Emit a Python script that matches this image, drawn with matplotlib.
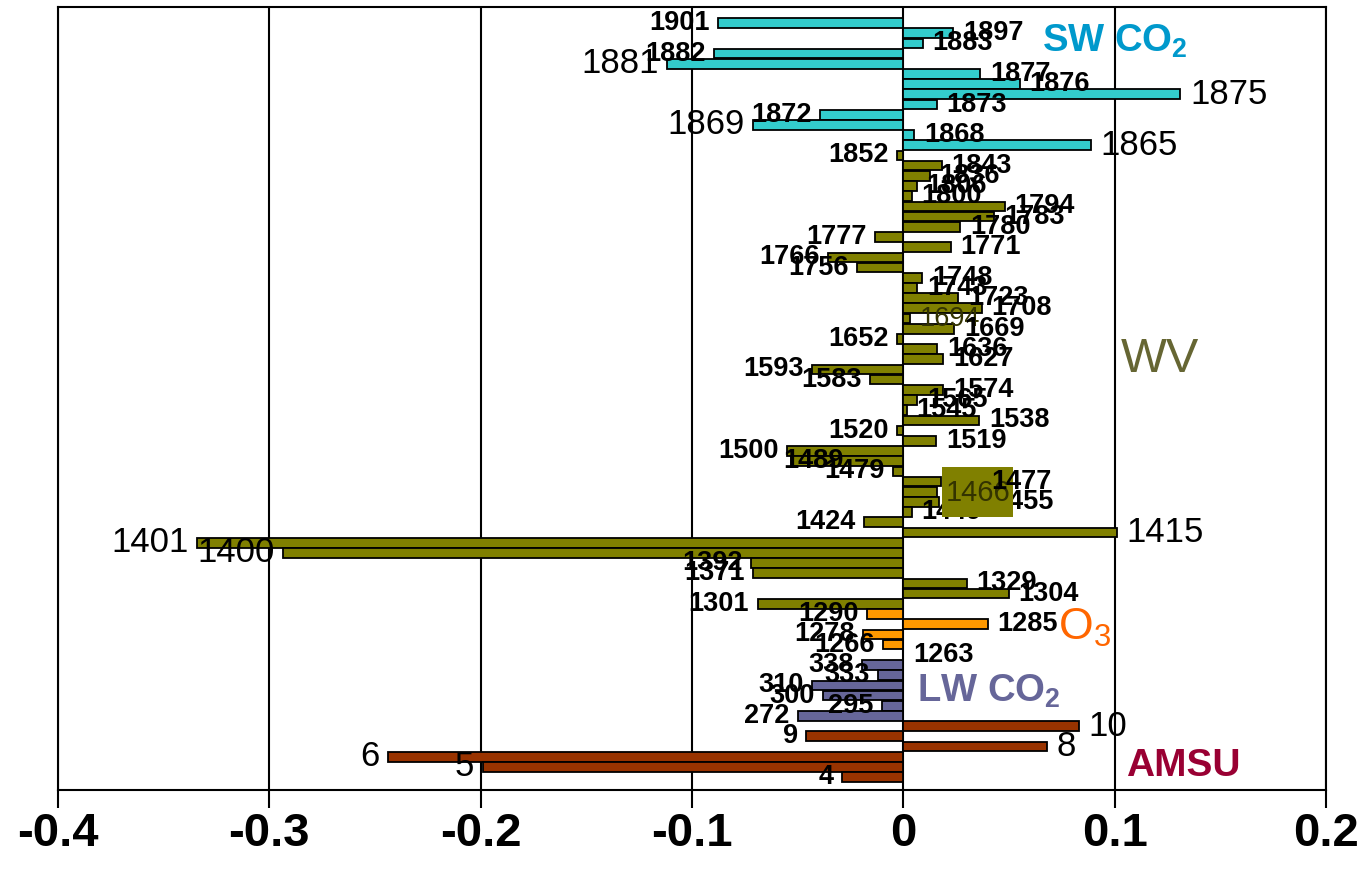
import numpy as np
import matplotlib
matplotlib.use('Agg')
import matplotlib.pyplot as plt
from matplotlib.patches import Rectangle

plt.rcParams['font.family'] = ['Liberation Sans', 'DejaVu Sans']
plt.rcParams['mathtext.fontset'] = 'custom'
plt.rcParams['mathtext.rm'] = 'Liberation Sans'
plt.rcParams['mathtext.bf'] = 'Liberation Sans:bold'

# channels of each group, listed from top to bottom, with their values
sw_co2_ch = ['1901', '1897', '1883', '1882', '1881', '1877', '1876', '1875',
             '1873', '1872', '1869', '1868', '1865']
sw_co2_val = [-0.0877, 0.0236, 0.0093, -0.0896, -0.1118, 0.0363, 0.0552, 0.131,
              0.0159, -0.0394, -0.0711, 0.0051, 0.0887]

wv_ch = ['1852', '1843', '1836', '1806', '1800', '1794', '1783', '1780', '1777',
         '1771', '1766', '1756', '1748', '1743', '1723', '1708', '1694', '1669',
         '1652', '1636', '1627', '1593', '1583', '1574', '1565', '1545', '1538',
         '1520', '1519', '1500', '1489', '1479', '1477', '1466', '1455', '1449',
         '1424', '1415', '1401', '1400', '1392', '1371', '1329', '1304', '1301']
wv_val = [-0.003, 0.0183, 0.0126, 0.0064, 0.0041, 0.048, 0.043, 0.027, -0.0134,
          0.0224, -0.0356, -0.022, 0.009, 0.0065, 0.026, 0.037, 0.003, 0.024,
          -0.003, 0.016, 0.019, -0.0434, -0.0158, 0.019, 0.0065, 0.0015, 0.036,
          -0.003, 0.0155, -0.055, -0.053, -0.005, 0.018, 0.016, 0.017, 0.004,
          -0.0186, 0.101, -0.334, -0.2935, -0.072, -0.071, 0.030, 0.050, -0.069]

o3_ch = ['1290', '1285', '1278', '1266', '1263']
o3_val = [-0.017, 0.040, -0.019, -0.0095, 0.0]

lw_co2_ch = ['338', '333', '310', '300', '295', '272']
lw_co2_val = [-0.0195, -0.012, -0.043, -0.038, -0.010, -0.050]

amsu_ch = ['10', '9', '8', '6', '5', '4']
amsu_val = [0.083, -0.046, 0.068, -0.244, -0.199, -0.029]

xtick_vals = [-0.4, -0.3, -0.2, -0.1, 0, 0.1, 0.2]
xtick_text = ['-0.4', '-0.3', '-0.2', '-0.1', '0', '0.1', '0.2']

big_labels = {'1881', '1875', '1869', '1865', '1415', '1401', '1400',
              '10', '8', '6', '5'}

groups = [
    (sw_co2_ch, sw_co2_val, '#33CCCC'),
    (wv_ch, wv_val, '#808000'),
    (o3_ch, o3_val, '#FF9900'),
    (lw_co2_ch, lw_co2_val, '#666699'),
    (amsu_ch, amsu_val, '#993300'),
]

names, vals, colors = [], [], []
for ch, v, c in groups:
    names += ch
    vals += v
    colors += [c] * len(ch)
pos = np.arange(len(names))

fig = plt.figure(figsize=(13.64, 8.72), dpi=100)
ax = fig.add_axes([58 / 1364, 82 / 872, 1268 / 1364, 783 / 872])

ax.barh(pos, vals, height=0.95, color=colors, edgecolor='black',
        linewidth=1.3, zorder=3)

ax.set_xlim(-0.4, 0.2)
ax.set_ylim(75.27, -1.57)
ax.set_xticks(xtick_vals)
ax.set_xticklabels(xtick_text, fontsize=34, fontweight='bold')
ax.set_yticks([])
ax.tick_params(axis='x', length=13, width=1.5, pad=3)
ax.grid(axis='x', color='black', linewidth=1.5, zorder=1)
for s in ax.spines.values():
    s.set_linewidth(1.5)

# labels that sit away from the usual spot at the bar end (points)
shift = {'1489': 38, '1477': 36, '1455': 39}
on_top = {'1477'}

for i, (name, v) in enumerate(zip(names, vals)):
    big = name in big_labels
    fs = 25 if big else 19.5
    fw = 'normal' if big else 'bold'
    col = 'black'
    if name == '1694':
        fw, col = 'normal', '#333300'
    if name == '1466':
        continue
    if v >= 0:
        ha, dx = 'left', 7
    else:
        ha, dx = 'right', -6
    dx = shift.get(name, dx)
    ax.annotate(name, (v, i), xytext=(dx, 0), textcoords='offset points',
                ha=ha, va='center', fontsize=fs, fontweight=fw, color=col,
                zorder=8 if name in on_top else 5)

# the filled box carrying the 1466 label
k = names.index('1466')
box = Rectangle((vals[k] + 0.0025, k - 2.45), 0.0335, 4.9,
                facecolor='#808000', edgecolor='none', zorder=6)
ax.add_patch(box)
ax.text(vals[k] + 0.0025 + 0.0335 / 2, k + 0.1, '1466', ha='center', va='center',
        fontsize=21, color='#333300', zorder=7)

# group names
ax.text(0.0656, 2.85, r'SW CO$_\mathregular{2}$', color='#0099CC',
        fontsize=27.5, fontweight='bold', va='baseline', zorder=9)
ax.text(0.1027, 34.25, 'WV', color='#666633', fontsize=35, va='baseline',
        zorder=9)
ax.text(0.0733, 60.55, r'O$_\mathregular{3}$', color='#FF6600', fontsize=32,
        va='baseline', zorder=9)
ax.text(0.0064, 66.6, r'LW CO$_\mathregular{2}$', color='#666699',
        fontsize=27.5, fontweight='bold', va='baseline', zorder=9)
ax.text(0.1055, 73.9, 'AMSU', color='#990033', fontsize=28,
        fontweight='bold', va='baseline', zorder=9)

fig.savefig('out.png', dpi=100)
